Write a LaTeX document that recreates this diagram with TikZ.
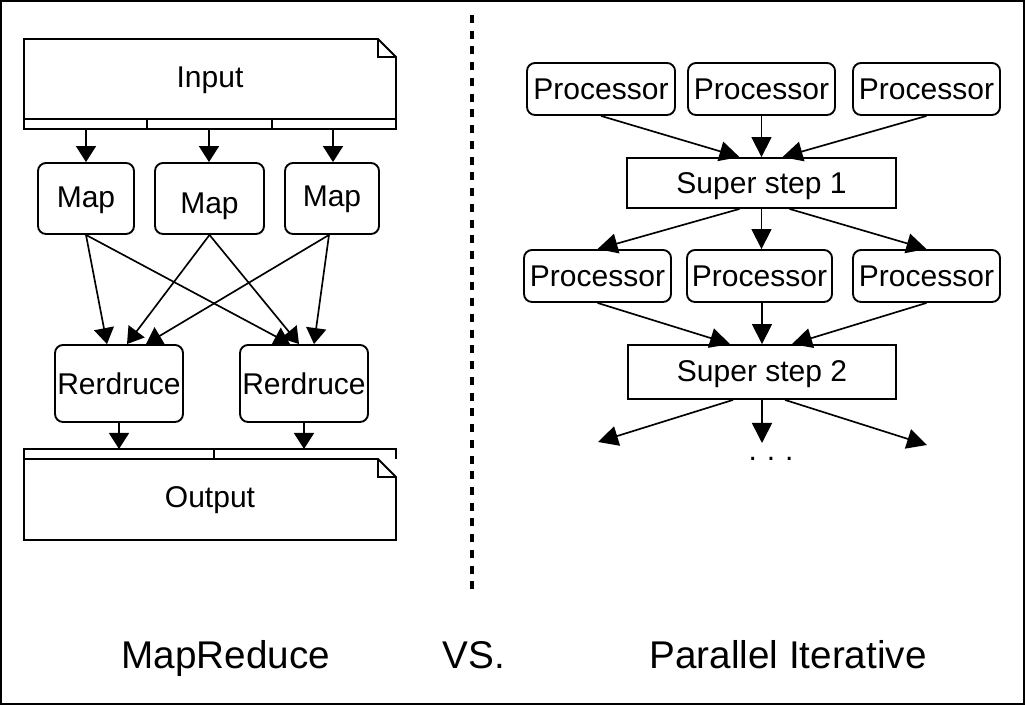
\documentclass[tikz,border=0pt]{standalone}
\usepackage{fontspec}
\setmainfont{Liberation Sans}
\usetikzlibrary{arrows.meta,calc}
\tikzset{
  px/.style={x=0.75pt,y=-0.75pt},
  sz/.style 2 args={minimum width=#1*0.75pt,minimum height=#2*0.75pt},
  rbox/.style={draw,line width=1.4pt,rounded corners=6pt,inner sep=0pt,font=\fontsize{22.5pt}{26pt}\selectfont},
  sbox/.style={draw,line width=1.4pt,inner sep=0pt,font=\fontsize{22.5pt}{26pt}\selectfont},
  lbl/.style={font=\fontsize{22.5pt}{26pt}\selectfont,inner sep=0pt},
  big/.style={font=\fontsize{29pt}{34pt}\selectfont,inner sep=0pt,anchor=base},
  arrL/.style={line width=1.25pt,-{Triangle[length=12pt,width=15pt]}},
  arrR/.style={line width=1.25pt,-{Triangle[length=15pt,width=15pt]}},
}
\begin{document}
\begin{tikzpicture}[px]
\useasboundingbox (0,0) rectangle (1025,705);
\draw[line width=1.5pt] (1,1) rectangle (1024,704);
% dashed separator
\coordinate (sepT) at (472,15);
\coordinate (sepB) at (472,594);
\draw[line width=2.6pt,dash pattern=on 6pt off 5.8pt] (sepT) -- (sepB);

% ---------- Input document ----------
\draw[line width=1.4pt] (24,129) -- (24,39) -- (378,39) -- (396,57) -- (396,129) -- cycle;
\draw[line width=1.2pt] (378,39) -- (378,57) -- (396,57);
\draw[line width=2.2pt] (24,119) -- (396,119);
\draw[line width=1.2pt] (147,119) -- (147,129) (272,119) -- (272,129);
\node[lbl] (input) at (210,80) {Input};
\coordinate (in1) at (86,129);
\coordinate (in2) at (209,129);
\coordinate (in3) at (333,129);

% ---------- Map boxes ----------
\node[rbox,sz={96}{71},label={[lbl,yshift=-1.5pt]center:Map}] (m1) at (86,198.5) {};
\node[rbox,sz={109}{71},label={[lbl,yshift=-6pt]center:Map}] (m2) at (209.5,198.5) {};
\node[rbox,sz={94}{71},label={[lbl,yshift=-0.8pt]center:Map}] (m3) at (332,198.5) {};

% ---------- Reduce boxes ----------
\node[rbox,sz={128}{77}] (r1) at (119,383.5) {Rerdruce};
\node[rbox,sz={128}{77}] (r2) at (304,383.5) {Rerdruce};

% ---------- Output document ----------
\draw[line width=1.2pt] (24,459) -- (24,449) -- (396,449) -- (396,459);
\draw[line width=1.2pt] (214,449) -- (214,459);
\draw[line width=1.4pt] (24,459) -- (378,459) -- (396,477) -- (396,540) -- (24,540) -- cycle;
\draw[line width=2.2pt] (24,459) -- (378,459);
\draw[line width=1.2pt] (378,459) -- (378,477) -- (396,477);
\node[lbl] (output) at (210,500) {Output};
\coordinate (o1) at (119,449);
\coordinate (o2) at (304,449);

% arrows left
\draw[arrL] (in1) -- (m1.north);
\draw[arrL] (in2) -- (in2 |- m2.north);
\draw[arrL] (in3) -- (in3 |- m3.north);
\draw[arrL] (m1.south) -- ($(r1.north)+(-12,0)$);
\draw[arrL] (m1.south) -- ($(r2.north)+(-14,0)$);
\draw[arrL] (m2.south) -- ($(r1.north)+(8,0)$);
\draw[arrL] (m2.south) -- ($(r2.north)+(-5,0)$);
\draw[arrL] ($(m3.south)+(-3,0)$) -- ($(r1.north)+(27,0)$);
\draw[arrL] ($(m3.south)+(-3,0)$) -- ($(r2.north)+(10,0)$);
\draw[arrL] (r1.south) -- (o1);
\draw[arrL] (r2.south) -- (o2);

% ---------- Right side ----------
\node[rbox,sz={148}{52}] (p1) at (601,89) {Processor};
\node[rbox,sz={147}{52}] (p2) at (761.5,89) {Processor};
\node[rbox,sz={147}{52}] (p3) at (926.5,89) {Processor};
\node[sbox,sz={269}{50},label={[lbl,yshift=-2pt]center:Super step 1}] (ss1) at (761.5,183) {};
\node[rbox,sz={147}{52}] (p4) at (597.5,276) {Processor};
\node[rbox,sz={145}{52}] (p5) at (759.5,276) {Processor};
\node[rbox,sz={147}{52}] (p6) at (926.5,276) {Processor};
\node[sbox,sz={268}{54},label={[lbl,yshift=-1.5pt]center:Super step 2}] (ss2) at (762,372) {};
\node[lbl] (dots) at (771,459) {.\,\,.\,\,.};

\draw[arrR] (p1.south) -- ($(ss1.north)+(-22,0)$);
\draw[arrR] (p2.south) -- (ss1.north);
\draw[arrR] (p3.south) -- ($(ss1.north)+(21,0)$);
\draw[arrR] ($(ss1.south)+(-22,0)$) -- (p4.north);
\draw[arrR] (ss1.south) -- (ss1.south |- p5.north);
\draw[arrR] ($(ss1.south)+(28,0)$) -- (p6.north);
\draw[arrR] (p4.south) -- ($(ss2.north)+(-32,0)$);
\draw[arrR] (p5.south -| ss2.north) -- (ss2.north);
\draw[arrR] (p6.south) -- ($(ss2.north)+(30,0)$);
\coordinate (e1) at (598,442);
\coordinate (e2) at (762,443);
\coordinate (e3) at (927,445);
\draw[arrR] ($(ss2.south)+(-29,0)$) -- (e1);
\draw[arrR] (ss2.south) -- (e2);
\draw[arrR] ($(ss2.south)+(23,0)$) -- (e3);

% ---------- bottom labels ----------
\node[big] (mr) at (226,668) {MapReduce};
\node[big] (vs) at (474,668) {VS.};
\node[big] (pi) at (788,668) {Parallel Iterative};
\end{tikzpicture}
\end{document}
